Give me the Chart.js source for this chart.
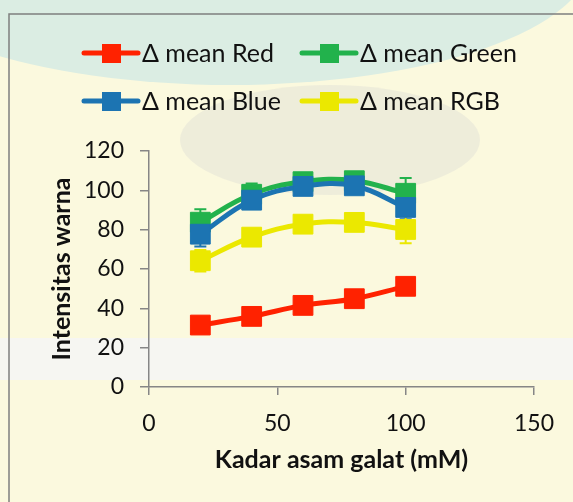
<!DOCTYPE html>
<html>
<head>
<meta charset="utf-8">
<script src="https://cdn.jsdelivr.net/npm/chart.js@4/dist/chart.umd.min.js"></script>
<style>
  html, body { margin: 0; padding: 0; background: #fbf9de; }
  #wrap { width: 573px; height: 502px; position: relative; }
</style>
</head>
<body>
<div id="wrap"><canvas id="myChart" width="573" height="502"></canvas></div>
<script>
// data
const kadar = [20, 40, 60, 80, 100];

const meanRed = [31.5, 35.9, 41.5, 44.9, 51.2];
const meanGreen = [83.8, 98, 104.4, 104.9, 98.5];
const meanBlue = [77.7, 95, 102, 102.3, 91.3];
const meanRGB = [64.2, 76.2, 82.8, 83.7, 80.1];

const errRed = [1, 1, 1.5, 1.5, 2];
const errGreen = [6.6, 5.5, 3, 3, 7.8];
const errBlue = [6.2, 4, 3, 3, 6];
const errRGB = [5.5, 4, 3, 3, 7];

const seriesLabels = ['\u0394 mean Red', '\u0394 mean Green', '\u0394 mean Blue', '\u0394 mean RGB'];

const xTicks = [0, 50, 100, 150];
const yTicks = [0, 20, 40, 60, 80, 100, 120];

const axisGrey = '#868686';

function toPoints(xs, ys) {
	return xs.map((x, i) => ({x: x, y: ys[i]}));
}

function makeSeries(label, values, errors, color, order) {
	return {
		label: label,
		data: toPoints(kadar, values),
		errors: errors,
		showLine: true,
		tension: 0.4,
		borderColor: color,
		backgroundColor: color,
		borderWidth: 5,
		pointStyle: 'rect',
		pointRadius: 14,
		pointHoverRadius: 14,
		pointBackgroundColor: color,
		pointBorderColor: color,
		pointBorderWidth: 1,
		order: order
	};
}

// background watermark-ish colours and the frame round the chart
const backdrop = {
	id: 'backdrop',
	beforeDraw(chart) {
		const ctx = chart.ctx;
		ctx.save();
		ctx.fillStyle = '#fbf9de';
		ctx.fillRect(0, 0, chart.width, chart.height);
		ctx.fillStyle = '#dbede3';
		ctx.beginPath();
		ctx.ellipse(230, -40, 360, 125, 0, 0, Math.PI * 2);
		ctx.fill();
		ctx.fillStyle = 'rgba(215,215,212,0.35)';
		ctx.beginPath();
		ctx.ellipse(330, 140, 150, 55, 0, 0, Math.PI * 2);
		ctx.fill();
		ctx.fillStyle = '#f6f6f2';
		ctx.fillRect(0, 338, chart.width, 42);
		ctx.strokeStyle = '#7f7f7f';
		ctx.lineWidth = 1.5;
		ctx.beginPath();
		ctx.moveTo(9, chart.height);
		ctx.lineTo(9, 14);
		ctx.lineTo(chart.width, 14);
		ctx.stroke();
		ctx.restore();
	}
};

const errorBars = {
	id: 'errorBars',
	beforeDatasetsDraw(chart) {
		const ctx = chart.ctx;
		const yScale = chart.scales.y;
		ctx.save();
		ctx.lineWidth = 2;
		chart.data.datasets.forEach((ds, i) => {
			const meta = chart.getDatasetMeta(i);
			ctx.strokeStyle = ds.borderColor;
			meta.data.forEach((pt, j) => {
				const v = ds.data[j].y;
				const e = ds.errors[j];
				const top = yScale.getPixelForValue(v + e);
				const bottom = yScale.getPixelForValue(v - e);
				ctx.beginPath();
				ctx.moveTo(pt.x, top);
				ctx.lineTo(pt.x, bottom);
				ctx.moveTo(pt.x - 6, top);
				ctx.lineTo(pt.x + 6, top);
				ctx.moveTo(pt.x - 6, bottom);
				ctx.lineTo(pt.x + 6, bottom);
				ctx.stroke();
			});
		});
		ctx.restore();
	}
};

// two column legend like the original
const gridLegend = {
	id: 'gridLegend',
	afterDraw(chart) {
		const ctx = chart.ctx;
		const colX = [84, 302];
		const rowY = [53, 101];
		ctx.save();
		ctx.font = '25px Lato';
		ctx.textBaseline = 'middle';
		ctx.textAlign = 'left';
		chart.data.datasets.forEach((ds, i) => {
			const x = colX[i % 2];
			const y = rowY[Math.floor(i / 2)];
			ctx.strokeStyle = ds.borderColor;
			ctx.lineWidth = 5;
			ctx.lineCap = 'round';
			ctx.beginPath();
			ctx.moveTo(x, y);
			ctx.lineTo(x + 54, y);
			ctx.stroke();
			ctx.fillStyle = ds.borderColor;
			ctx.fillRect(x + 18, y - 9, 19, 19);
			ctx.fillStyle = '#111';
			ctx.fillText(ds.label, x + 58, y + 1);
		});
		ctx.restore();
	}
};

function createChart() {
	const ctx = document.getElementById('myChart');
	new Chart(ctx, {
		type: 'scatter',
		data: {
			datasets: [
				makeSeries(seriesLabels[0], meanRed, errRed, '#ff2200', 1),
				makeSeries(seriesLabels[1], meanGreen, errGreen, '#22b24c', 3),
				makeSeries(seriesLabels[2], meanBlue, errBlue, '#1c74b2', 2),
				makeSeries(seriesLabels[3], meanRGB, errRGB, '#ebe800', 1)
			]
		},
		options: {
			responsive: false,
			animation: false,
			layout: { padding: { left: 0, right: 39, top: 151, bottom: 0 } },
			plugins: {
				legend: { display: false },
				tooltip: { enabled: false }
			},
			scales: {
				x: {
					type: 'linear',
					min: 0,
					max: 150,
					afterBuildTicks: (axis) => { axis.ticks = xTicks.map(v => ({value: v})); },
					afterFit: (axis) => { axis.height = 115; },
					grid: { drawOnChartArea: false, color: axisGrey, lineWidth: 1.5, tickLength: 8 },
					border: { color: axisGrey, width: 1.5 },
					ticks: { color: '#111', font: { size: 23 }, padding: 15 },
					title: {
						display: true,
						text: 'Kadar asam galat (mM)',
						color: '#111',
						font: { size: 25, weight: 'bold' },
						padding: { top: 0, bottom: 27 }
					}
				},
				y: {
					min: 0,
					max: 120,
					afterBuildTicks: (axis) => { axis.ticks = yTicks.map(v => ({value: v})); },
					afterFit: (axis) => { axis.width = 149; },
					grid: { drawOnChartArea: false, color: axisGrey, lineWidth: 1.5, tickLength: 9 },
					border: { color: axisGrey, width: 1.5 },
					ticks: { color: '#111', font: { size: 23 }, padding: 16 },
					title: {
						display: true,
						text: 'Intensitas warna',
						color: '#111',
						font: { size: 25, weight: 'bold' },
						padding: { top: 47, bottom: 0 }
					}
				}
			}
		},
		plugins: [backdrop, errorBars, gridLegend]
	});
}

Chart.defaults.font.family = 'Lato';

Promise.all([
	document.fonts.load('25px Lato'),
	document.fonts.load('bold 25px Lato')
]).then(createChart).catch((err) => {
	console.error('Font load failed', err);
	createChart();
});
</script>
</body>
</html>
